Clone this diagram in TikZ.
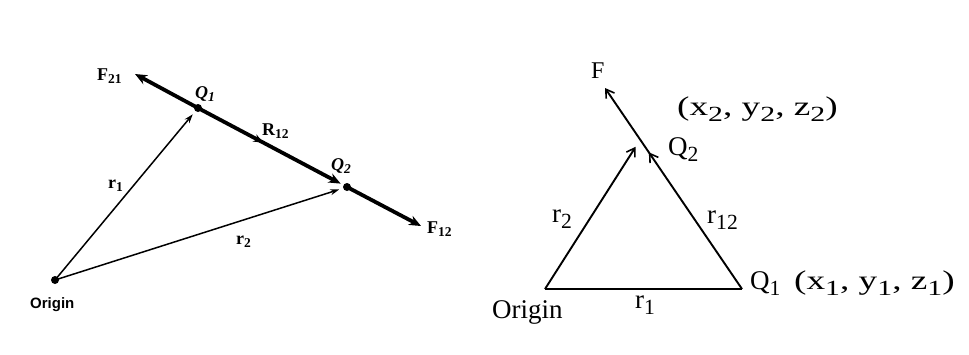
\documentclass[tikz,border=0pt]{standalone}
\usepackage{fontspec}
\setmainfont{Liberation Serif}
\newfontfamily\lsans{Liberation Sans}
\newfontfamily\wideserif[FakeStretch=1.38]{Liberation Serif}
\usetikzlibrary{arrows.meta,decorations.markings}
\newcommand\mysub[1]{\raisebox{-0.45ex}{\scalebox{0.75}{#1}}}
\newcommand\bigsub[1]{\raisebox{-0.5ex}{\scalebox{0.8}{#1}}}
\tikzset{
  thinvec/.style={line width=1.5pt,-{Stealth[length=9pt,width=6pt]},shorten >=4pt},
  thickvec/.style={line width=3.8pt,-{Stealth[length=12pt,width=10pt]}},
  midarrow/.style={postaction={decorate},decoration={markings,mark=at position #1 with {\arrow{Stealth[length=10pt,width=8pt]}}}},
  openmid/.style={postaction={decorate},decoration={markings,mark=at position #1 with {\arrow{Straight Barb[length=8pt,width=10pt,line width=1.6pt]}}}},
  rline/.style={line width=1.9pt},
  dot/.style={circle,fill=black,inner sep=0pt,minimum size=8pt},
  slab/.style={font=\bfseries\fontsize{18}{20}\selectfont,inner sep=0pt,anchor=base west},
  qlab/.style={font=\bfseries\itshape\fontsize{18}{20}\selectfont,inner sep=0pt,anchor=base west},
  rlab/.style={font=\fontsize{27}{29}\selectfont,inner sep=0pt,anchor=base west},
  wlab/.style={font=\wideserif\fontsize{27}{29}\selectfont,inner sep=0pt,anchor=base west},
}
\begin{document}
\begin{tikzpicture}[x=1pt,y=-1pt]
\useasboundingbox[fill=white] (0,0) rectangle (969,354);
% ---------- left diagram ----------
\node[dot] (O) at (55,280) {};
\node[dot] (Q1) at (198,108) {};
\node[dot] (Q2) at (347,187) {};
\coordinate (F21t) at (135,74);
\coordinate (F12t) at (421,226);
\draw[thickvec] (Q1.center) -- (F21t);
\draw[thickvec] (Q2.center) -- (F12t);
\draw[line width=3.8pt,midarrow=0.45,-{Stealth[length=12pt,width=10pt]},shorten >=3pt] (Q1.center) -- (Q2);
\draw[thinvec] (O.center) -- (Q1);
\draw[thinvec] (O.center) -- (Q2);
\node[slab] (lF21) at (97,80) {F\mysub{21}};
\node[slab] (lF12) at (427,233) {F\mysub{12}};
\node[qlab] (lQ1) at (195,98) {Q\mysub{1}};
\node[slab] (lR12) at (262,135) {R\mysub{12}};
\node[qlab] (lQ2) at (331,170) {Q\mysub{2}};
\node[slab] (lr1) at (108,188) {r\mysub{1}};
\node[slab] (lr2) at (236,244) {r\mysub{2}};
\node[font=\lsans\fontsize{15}{17}\selectfont\bfseries,inner sep=0pt,anchor=base west] (lO) at (30,308) {Origin};
% ---------- right diagram ----------
\coordinate (RO) at (545,289);
\coordinate (RQ1) at (742,289);
\coordinate (RA) at (640,140);
\coordinate (RF) at (605,88);
\draw[rline] (RO) -- (RQ1);
\draw[rline,-{Straight Barb[length=8pt,width=10pt,line width=1.6pt]},shorten >=8pt] (RO) -- (RA);
\draw[rline,openmid=0.68,-{Straight Barb[length=8pt,width=10pt,line width=1.6pt]}] (RQ1) -- (RF);
\node[rlab,font=\fontsize{24}{26}\selectfont] (rFl) at (591,78) {F};
\node[wlab] (rxyz2) at (677,115) {(x\bigsub{2}, y\bigsub{2}, z\bigsub{2})};
\node[rlab] (rQ2) at (668,155) {Q\bigsub{2}};
\node[rlab] (rr2) at (552,222) {r\bigsub{2}};
\node[rlab] (rr12) at (707,223) {r\bigsub{12}};
\node[rlab] (rQ1) at (750,289) {Q\bigsub{1}};
\node[wlab] (rxyz1) at (794,289) {(x\bigsub{1}, y\bigsub{1}, z\bigsub{1})};
\node[rlab] (rOl) at (492,318) {Origin};
\node[rlab] (rr1) at (635,308) {r\bigsub{1}};
\end{tikzpicture}
\end{document}
